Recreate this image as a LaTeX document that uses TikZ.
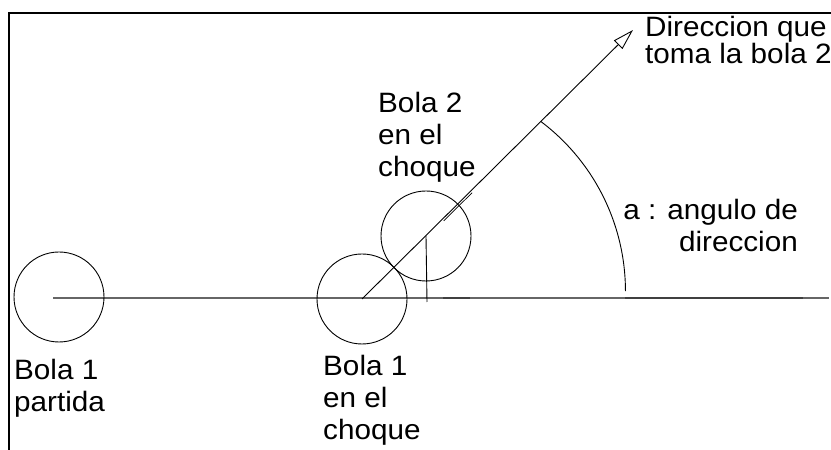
\documentclass[tikz,border=0pt]{standalone}
\usepackage{fontspec}
\setmainfont{Liberation Sans}[FakeStretch=1.06]
\usetikzlibrary{arrows.meta,calc}

\begin{document}
\begin{tikzpicture}[x=1pt, y=1pt,
    ball/.style={circle, draw, line width=0.9pt, minimum size=90pt, inner sep=0pt},
    lbl/.style={inner sep=0pt, font=\fontsize{28}{32}\selectfont}]
    \useasboundingbox (0,0) rectangle (831,450);

    % Frame
    \draw[line width=2pt] (9,0) -- (9,437) -- (831,437);

    % Base line
    \coordinate (start) at (53,152);
    \coordinate (stop) at (829,152);
    \draw[gray!80!black, line width=1.3pt] (start) -- (stop);
    \draw[black!75, line width=1.6pt] (443,152) -- (470,152);
    \draw[black!75, line width=1.6pt] (625,152) -- (803,152);

    % Balls
    \node (b1) [ball] at (59,153) {};
    \node (c1) [ball] at (362,151) {};
    \node (c2) [ball] at (426,214) {};

    % Direction of ball 2
    \coordinate (tip) at (633,420);
    \draw[line width=0.9pt, -{Triangle[open, length=21pt, width=12pt]}] (c1.center) -- (tip);
    \draw[line width=0.7pt] ($(c1.center)!113pt!(tip) + (1.5,-1.5)$) -- ($(c1.center)!153pt!(tip) + (1.5,-1.5)$);

    % Drop from ball 2
    \coordinate (foot) at (427,148);
    \draw[line width=0.9pt] (c2.center) -- (foot);

    % Angle
    \coordinate (arcstart) at ($(c1.center)!252pt!(tip)$);
    \draw[line width=0.9pt] (arcstart) arc[start angle=53, end angle=0, radius=212.5];

    % Labels (base = last line)
    \node (lb1) [lbl, anchor=base west, align=left] at (14,38) {Bola 1\\partida};
    \node (lc1) [lbl, anchor=base west, align=left] at (323,10) {Bola 1\\en el\\choque};
    \node (lc2) [lbl, anchor=base west, align=left] at (378,273) {Bola 2\\en el\\choque};
    \node (ldir) [lbl, anchor=base west, align=left, font=\fontsize{28}{25}\selectfont] at (645,386) {Direccion que\\toma la bola 2};
    \node (lang) [lbl, anchor=base east, align=right] at (798,198) {a : angulo de\\direccion};
\end{tikzpicture}
\end{document}
